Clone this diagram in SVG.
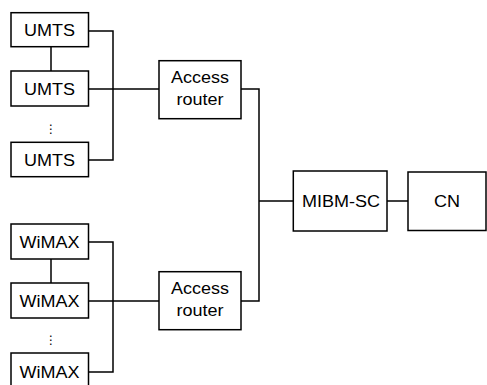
<svg xmlns="http://www.w3.org/2000/svg" width="487" height="385" viewBox="0 0 487 385">
<style>
.box{fill:#fff;stroke:#000;stroke-width:1.5}
.ln{fill:none;stroke:#000;stroke-width:1.5}
text{font-family:"Liberation Sans",Arial,sans-serif;font-size:16px;fill:#000;text-anchor:middle}
.dots{font-family:"DejaVu Sans",sans-serif;font-size:12px}
</style>
<rect width="487" height="385" fill="#fff"/>
<g id="connectors">
<path class="ln" d="M88.5 31H113V160H88.5M88.5 89H159M51 46.7V71"/>
<path class="ln" d="M88.5 242H113V372H88.5M88.5 301H159M51 259V283"/>
<path class="ln" d="M241 89H259V301H241M259 201H293M387 201H408"/>
</g>
<g id="umts1"><rect class="box" x="11" y="12.7" width="77.5" height="34"/><text x="49.5" y="36" textLength="51" lengthAdjust="spacingAndGlyphs">UMTS</text></g>
<g id="umts2"><rect class="box" x="11" y="71" width="77.5" height="35"/><text x="49.5" y="95" textLength="51" lengthAdjust="spacingAndGlyphs">UMTS</text></g>
<g id="umts-dots"><text class="dots" x="51" y="132.5">⋮</text></g>
<g id="umts3"><rect class="box" x="11" y="142.3" width="77.5" height="34.4"/><text x="49.5" y="166" textLength="51" lengthAdjust="spacingAndGlyphs">UMTS</text></g>
<g id="router1"><rect class="box" x="159" y="60.7" width="82" height="58"/><text x="200" y="83.3" textLength="58" lengthAdjust="spacingAndGlyphs">Access</text><text x="200" y="105" textLength="47" lengthAdjust="spacingAndGlyphs">router</text></g>
<g id="wimax1"><rect class="box" x="11" y="224" width="77.5" height="35"/><text x="49.5" y="248" textLength="60" lengthAdjust="spacingAndGlyphs">WiMAX</text></g>
<g id="wimax2"><rect class="box" x="11" y="283" width="77.5" height="35"/><text x="49.5" y="307" textLength="60" lengthAdjust="spacingAndGlyphs">WiMAX</text></g>
<g id="wimax-dots"><text class="dots" x="51" y="343.5">⋮</text></g>
<g id="wimax3"><rect class="box" x="11" y="353" width="77.5" height="38"/><text x="49.5" y="378" textLength="60" lengthAdjust="spacingAndGlyphs">WiMAX</text></g>
<g id="router2"><rect class="box" x="159" y="271.7" width="82" height="58"/><text x="200" y="294.3" textLength="58" lengthAdjust="spacingAndGlyphs">Access</text><text x="200" y="316" textLength="47" lengthAdjust="spacingAndGlyphs">router</text></g>
<g id="mibmsc"><rect class="box" x="293.3" y="171" width="93.7" height="60"/><text x="341" y="206.7" textLength="78" lengthAdjust="spacingAndGlyphs">MIBM-SC</text></g>
<g id="cn"><rect class="box" x="408" y="172" width="78" height="58.5"/><text x="447" y="207" textLength="26" lengthAdjust="spacingAndGlyphs">CN</text></g>
</svg>
